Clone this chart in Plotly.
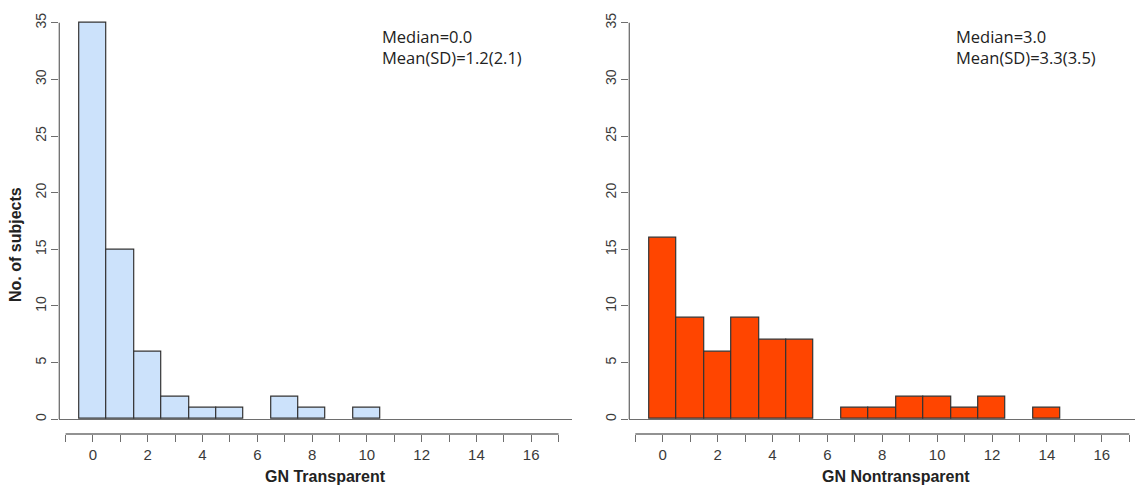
import plotly.graph_objects as go

# ---- data ----
bins_left = [0, 1, 2, 3, 4, 5, 6, 7, 8, 9, 10]
counts_left = [35, 15, 6, 2, 1, 1, 0, 2, 1, 0, 1]
bins_right = [0, 1, 2, 3, 4, 5, 6, 7, 8, 9, 10, 11, 12, 13, 14]
counts_right = [16, 9, 6, 9, 7, 7, 0, 1, 1, 2, 2, 1, 2, 0, 1]

x_tick_vals = list(range(-1, 18))
x_tick_text = [str(v) if (v >= 0 and v % 2 == 0) else "" for v in x_tick_vals]
y_tick_vals = [0, 5, 10, 15, 20, 25, 30, 35]

titles = ["GN Transparent", "GN Nontransparent"]
stats_text = ["Median=0.0<br>Mean(SD)=1.2(2.1)", "Median=3.0<br>Mean(SD)=3.3(3.5)"]
colors = ["#cce2fb", "#ff4500"]

W, H = 1135, 486
AX_GRAY = "#6e6e6e"
TXT = "#3a3a3a"
FONT = "Liberation Sans, Arial, sans-serif"


def outline_widths(counts):
    return [1.2 if c > 0 else 0 for c in counts]


fig = go.Figure()
fig.add_trace(go.Bar(x=bins_left, y=counts_left, width=1,
                     marker=dict(color=colors[0], line=dict(color="#333333", width=outline_widths(counts_left))),
                     xaxis="x", yaxis="y", showlegend=False))
fig.add_trace(go.Bar(x=bins_right, y=counts_right, width=1,
                     marker=dict(color=colors[1], line=dict(color="#333333", width=outline_widths(counts_right))),
                     xaxis="x2", yaxis="y2", showlegend=False))

ydom = [(486 - 434) / H, (486 - 5.8) / H]
yrange = [-1.30, 36.5]

common_x = dict(showgrid=False, zeroline=False, showline=False, ticks="outside", ticklen=7,
                tickcolor=AX_GRAY, tickwidth=1.2, tickvals=x_tick_vals, ticktext=x_tick_text,
                tickfont=dict(family=FONT, size=15, color=TXT), fixedrange=True)
common_y = dict(showgrid=False, zeroline=True, zerolinecolor=AX_GRAY, zerolinewidth=1.3,
                showline=False, ticks="outside", ticklen=7, tickcolor=AX_GRAY, tickwidth=1.2,
                tickvals=y_tick_vals, tickangle=-90, range=yrange, domain=ydom,
                tickfont=dict(family=FONT, size=14, color=TXT), fixedrange=True)

fig.update_layout(
    width=W, height=H, margin=dict(l=0, r=0, t=0, b=0),
    paper_bgcolor="white", plot_bgcolor="white", bargap=0,
    xaxis=dict(domain=[59.3 / W, 572 / W], range=[-1.23, 17.49], anchor="y", **common_x),
    yaxis=dict(anchor="x", **common_y),
    xaxis2=dict(domain=[629.3 / W, 1.0], range=[-1.22, 17.21], anchor="y2", **common_x),
    yaxis2=dict(anchor="x2", **common_y),
)

shapes = []
annotations = []
for i, (xr, yr) in enumerate([("x", "y"), ("x2", "y2")]):
    # y axis line (0..35)
    shapes.append(dict(type="line", xref=xr + " domain", yref=yr, x0=0, x1=0, y0=0, y1=35,
                       line=dict(color=AX_GRAY, width=1.3)))
    # x axis line (-1..17)
    shapes.append(dict(type="line", xref=xr, yref="paper", x0=-1, x1=17, y0=ydom[0], y1=ydom[0],
                       line=dict(color=AX_GRAY, width=1.3)))
    annotations.append(dict(text="<b>" + titles[i] + "</b>", xref=xr, yref="paper", x=8.5, y=(486 - 476) / H,
                            showarrow=False, font=dict(family=FONT, size=16, color="#222"),
                            xanchor="center", yanchor="middle"))
    annotations.append(dict(text=stats_text[i], xref="paper", yref="paper",
                            x=(380 if i == 0 else 954) / W, y=(486 - 22.5) / H,
                            xanchor="left", yanchor="top", align="left", showarrow=False,
                            font=dict(family="Open Sans, sans-serif", size=16.5, color="#222")))

annotations.append(dict(text="<b>No. of subjects</b>", xref="paper", yref="paper", x=15 / W, y=(486 - 245) / H,
                        textangle=-90, showarrow=False, font=dict(family=FONT, size=16, color="#222"),
                        xanchor="center", yanchor="middle"))

fig.update_layout(shapes=shapes, annotations=annotations)
fig.write_html("out.html")
